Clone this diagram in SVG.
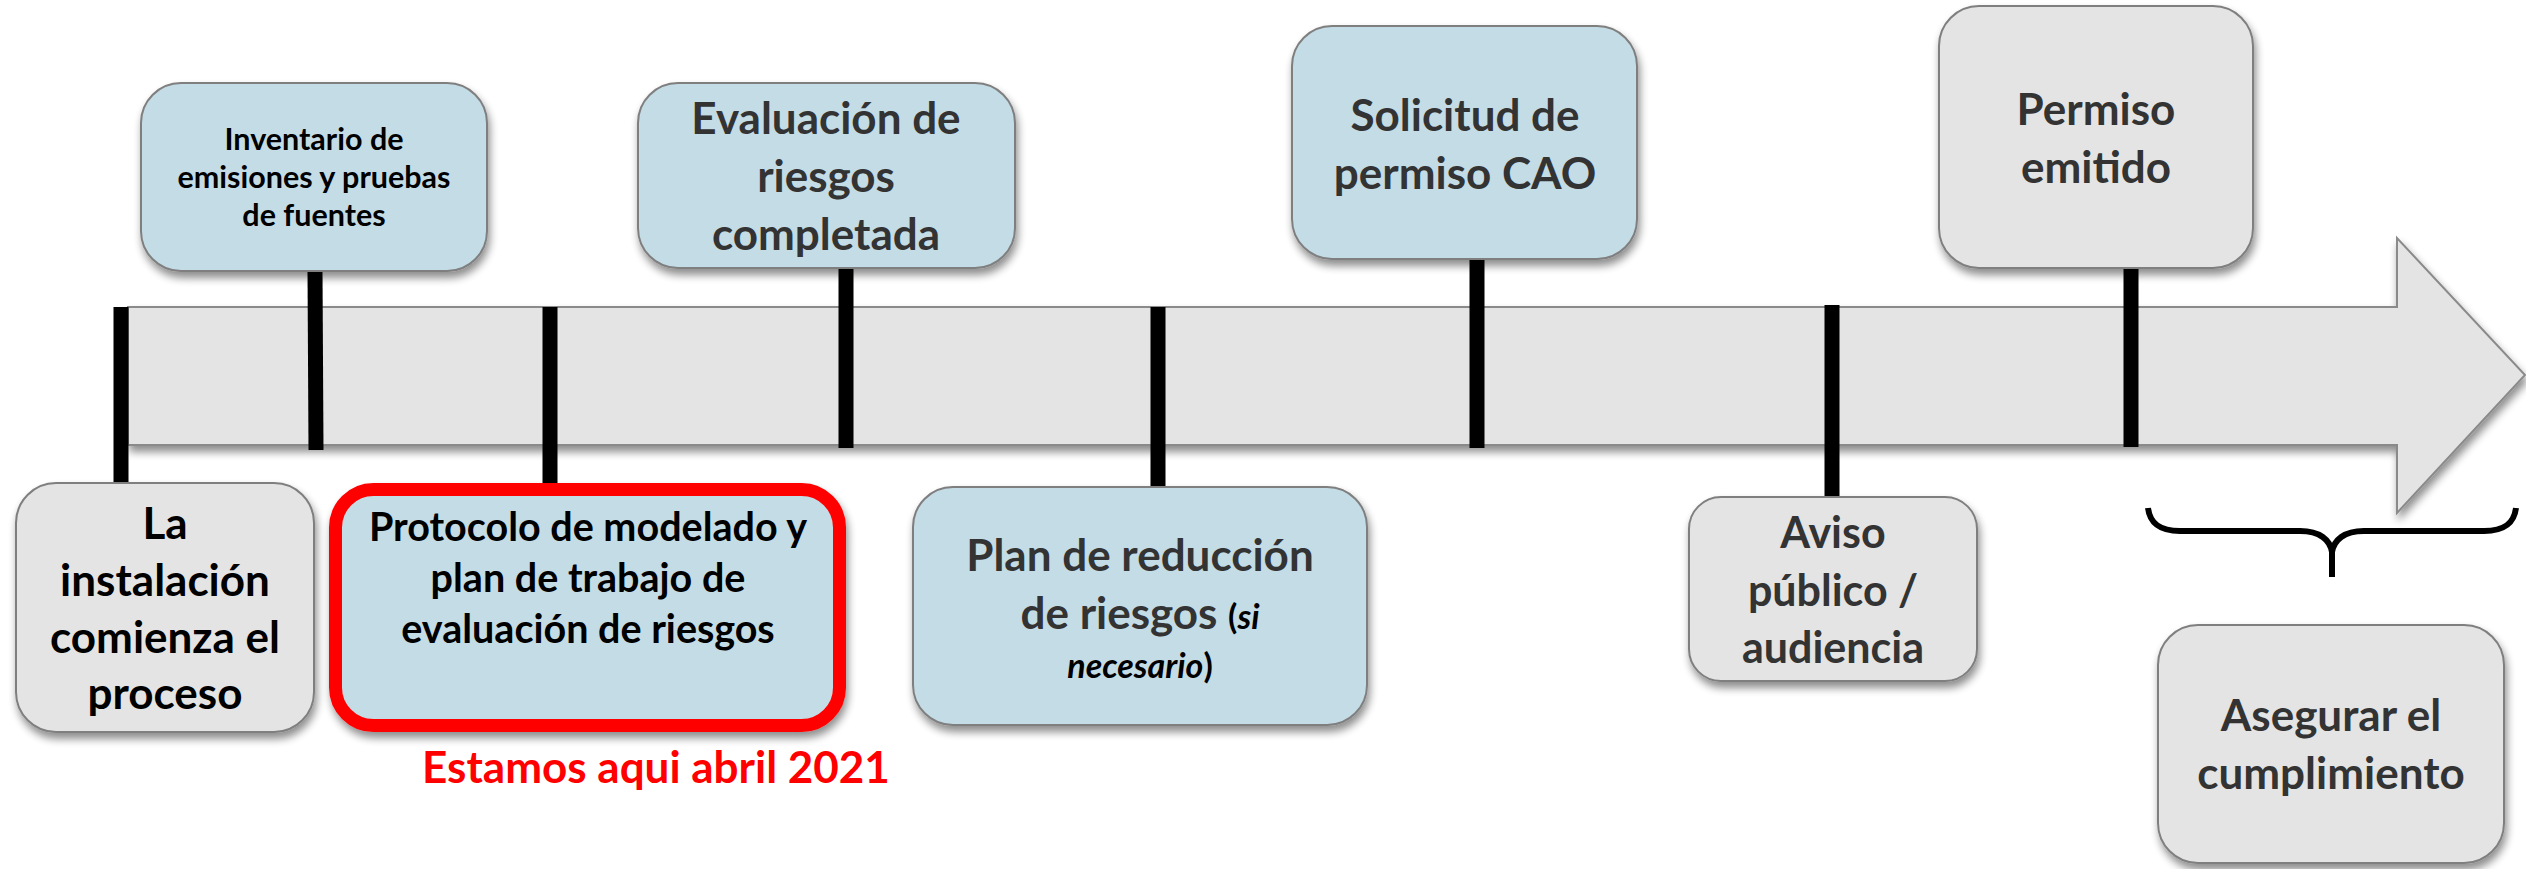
<svg xmlns="http://www.w3.org/2000/svg" width="2526" height="869" viewBox="0 0 2526 869">
<style>
.t{font-family:Lato,"Liberation Sans",sans-serif;font-weight:bold;text-anchor:middle}
.blue{fill:#c4dce6;stroke:#7f7f7f;stroke-width:2}
.grey{fill:#e4e4e4;stroke:#7f7f7f;stroke-width:2}
.tick{stroke:#000;stroke-width:15;fill:none}
.dk{fill:#333333}
.bk{fill:#000000}
</style>
<defs>
<filter id="sh" x="-10%" y="-10%" width="120%" height="130%">
<feGaussianBlur in="SourceAlpha" stdDeviation="4"/>
<feOffset dx="2" dy="6" result="b"/>
<feComponentTransfer><feFuncA type="linear" slope="0.45"/></feComponentTransfer>
<feMerge><feMergeNode/><feMergeNode in="SourceGraphic"/></feMerge>
</filter>
</defs>
<g id="timeline-arrow">
<path d="M128,307 L2397,307 L2397,238 L2525,375 L2397,513 L2397,445 L128,445 Z" fill="#e4e4e4" stroke="#8a8a8a" stroke-width="2" filter="url(#sh)"/>
</g>
<g id="connectors">
<line class="tick" x1="121" y1="307" x2="121" y2="487"/>
<line class="tick" x1="315" y1="271" x2="316" y2="450"/>
<line class="tick" x1="550" y1="307" x2="550" y2="485"/>
<line class="tick" x1="846" y1="268" x2="846" y2="448"/>
<line class="tick" x1="1158" y1="307" x2="1158" y2="488"/>
<line class="tick" x1="1477" y1="259" x2="1477" y2="448"/>
<line class="tick" x1="1832" y1="305" x2="1832" y2="498"/>
<line class="tick" x1="2131" y1="267" x2="2131" y2="447"/>
</g>
<g id="node-inventario">
<rect class="blue" x="141" y="83" width="346" height="188" rx="40" filter="url(#sh)"/>
<text class="t bk" font-size="30.5"><tspan x="314" y="150">Inventario de</tspan><tspan x="314" y="188">emisiones y pruebas</tspan><tspan x="314" y="226">de fuentes</tspan></text>
</g>
<g id="node-evaluacion">
<rect class="blue" x="638" y="83" width="377" height="185" rx="40" filter="url(#sh)"/>
<text class="t dk" font-size="44"><tspan x="826" y="134">Evaluación de</tspan><tspan x="826" y="192">riesgos</tspan><tspan x="826" y="250">completada</tspan></text>
</g>
<g id="node-solicitud">
<rect class="blue" x="1292" y="26" width="345" height="233" rx="40" filter="url(#sh)"/>
<text class="t dk" font-size="44"><tspan x="1465" y="131">Solicitud de</tspan><tspan x="1465" y="189">permiso CAO</tspan></text>
</g>
<g id="node-permiso">
<rect class="grey" x="1939" y="6" width="314" height="262" rx="40" filter="url(#sh)"/>
<text class="t dk" font-size="44"><tspan x="2096" y="125">Permiso</tspan><tspan x="2096" y="183">emitido</tspan></text>
</g>
<g id="node-instalacion">
<rect class="grey" x="16" y="483" width="298" height="249" rx="40" filter="url(#sh)"/>
<text class="t bk" font-size="44"><tspan x="165" y="539">La</tspan><tspan x="165" y="596">instalación</tspan><tspan x="165" y="653">comienza el</tspan><tspan x="165" y="709">proceso</tspan></text>
</g>
<g id="node-protocolo">
<rect x="335.5" y="489.5" width="504" height="236" rx="38" fill="#c4dce6" stroke="#ff0000" stroke-width="13" filter="url(#sh)"/>
<text class="t bk" font-size="39.5"><tspan x="588" y="541">Protocolo de modelado y</tspan><tspan x="588" y="592">plan de trabajo de</tspan><tspan x="588" y="643">evaluación de riesgos</tspan></text>
</g>
<g id="node-plan">
<rect class="blue" x="913" y="487" width="454" height="238" rx="40" filter="url(#sh)"/>
<text class="t" font-size="44"><tspan x="1140" y="571" class="dk">Plan de reducción</tspan><tspan x="1140" y="629"><tspan class="dk">de riesgos </tspan><tspan class="bk" font-size="34">(<tspan font-style="italic">si</tspan></tspan></tspan><tspan x="1140" y="678" class="bk" font-size="34"><tspan font-style="italic">necesario</tspan>)</tspan></text>
</g>
<g id="node-aviso">
<rect class="grey" x="1689" y="497" width="288" height="184" rx="32" filter="url(#sh)"/>
<text class="t dk" font-size="43"><tspan x="1833" y="548">Aviso</tspan><tspan x="1833" y="606">público /</tspan><tspan x="1833" y="663">audiencia</tspan></text>
</g>
<g id="brace">
<path d="M2148,508 C2150,524 2160,531 2180,531 L2300,531 C2320,531 2330,540 2332,552 C2334,540 2344,531 2364,531 L2484,531 C2504,531 2514,524 2516,508 M2332,546 L2332,577" fill="none" stroke="#000" stroke-width="6"/>
</g>
<g id="node-asegurar">
<rect class="grey" x="2158" y="625" width="346" height="238" rx="40" filter="url(#sh)"/>
<text class="t dk" font-size="44"><tspan x="2331" y="731">Asegurar el</tspan><tspan x="2331" y="789">cumplimiento</tspan></text>
</g>
<g id="label-estamos">
<text class="t" font-size="44" fill="#ff0000" x="656" y="783">Estamos aqui abril 2021</text>
</g>
</svg>
